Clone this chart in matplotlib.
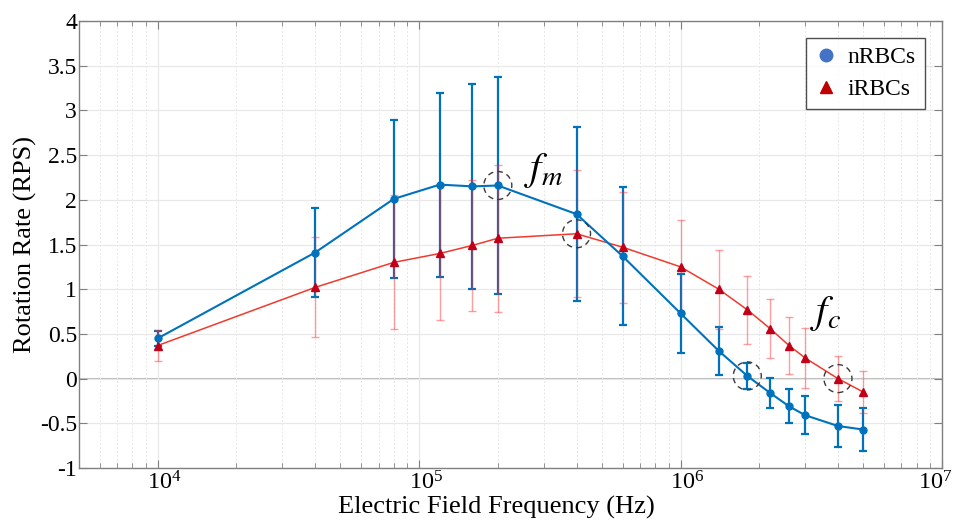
import matplotlib
matplotlib.use("Agg")
import matplotlib.pyplot as plt
import numpy as np
from matplotlib.ticker import LogLocator, FixedLocator, FixedFormatter, NullFormatter
from matplotlib.lines import Line2D
from matplotlib.patches import Circle
from matplotlib.transforms import ScaledTranslation

plt.rcParams['font.family'] = ['Liberation Serif', 'DejaVu Serif']
plt.rcParams['mathtext.fontset'] = 'stix'
plt.rcParams['axes.unicode_minus'] = False

# Frequencies (Hz)
freq = [1e4, 4e4, 8e4, 1.2e5, 1.6e5, 2e5, 4e5, 6e5, 1e6, 1.4e6, 1.8e6,
        2.2e6, 2.6e6, 3e6, 4e6, 5e6]

# Normal RBCs: mean rotation rate and error
nrbc_mean = [0.45, 1.41, 2.01, 2.17, 2.15, 2.16, 1.84, 1.37, 0.73, 0.31, 0.03,
             -0.16, -0.31, -0.41, -0.53, -0.57]
nrbc_err = [0.08, 0.50, 0.88, 1.03, 1.15, 1.21, 0.97, 0.77, 0.44, 0.27, 0.15,
            0.17, 0.19, 0.21, 0.23, 0.24]

# Infected RBCs: mean rotation rate and error
irbc_mean = [0.37, 1.02, 1.30, 1.40, 1.49, 1.57, 1.62, 1.47, 1.25, 1.00, 0.77,
             0.56, 0.37, 0.23, 0.00, -0.15]
irbc_err = [0.17, 0.56, 0.75, 0.75, 0.73, 0.82, 0.71, 0.62, 0.52, 0.44, 0.38,
            0.33, 0.32, 0.34, 0.25, 0.23]

# Highlighted characteristic frequencies (freq, value)
circ_freq = [2e5, 4e5, 1.8e6, 4e6]
circ_val = [2.16, 1.62, 0.03, 0.00]

xticks = [1e4, 1e5, 1e6, 1e7]
yticks = [-1, -0.5, 0, 0.5, 1, 1.5, 2, 2.5, 3, 3.5, 4]
ytick_labels = ['-1', '-0.5', '0', '0.5', '1', '1.5', '2', '2.5', '3', '3.5', '4']

blue = '#0072BD'
red_line = '#F03A2E'
red_mark = '#C00018'
red_err = '#FF2A2A'

fig = plt.figure(figsize=(9.54, 5.21), dpi=100)
ax = fig.add_axes([0.0828, 0.1017, 0.9046, 0.858])

ax.set_xscale('log')
ax.set_xlim(5e3, 1e7)
ax.set_ylim(-1, 4)

# grid
ax.grid(True, which='major', color='#E8E8E8', lw=0.9, zorder=0)
ax.xaxis.set_minor_locator(LogLocator(base=10, subs=np.arange(2, 10)))
ax.grid(True, which='minor', axis='x', color='#E6E6E6', lw=0.7, ls=(0, (2, 2)), zorder=0)
ax.axhline(0, color='#A6A6A6', lw=1.1, zorder=1)

# normal RBCs error bars (underneath)
ax.errorbar(freq, nrbc_mean, yerr=nrbc_err, fmt='none', ecolor=blue,
            elinewidth=1.6, capsize=3, capthick=1.6, zorder=2)

# infected RBCs (translucent bars over the blue ones)
ax.errorbar(freq, irbc_mean, yerr=irbc_err, fmt='none', ecolor=red_err,
            elinewidth=1.0, capsize=3, capthick=1.0, alpha=0.45, zorder=3)
ax.plot(freq, irbc_mean, color=red_line, lw=1.1, zorder=4)
ax.plot(freq, irbc_mean, ls='none', marker='^', ms=6, color=red_mark, zorder=5)

# normal RBCs line and markers
ax.plot(freq, nrbc_mean, color=blue, lw=1.5, marker='o', ms=5, zorder=6)

# ticks
ax.xaxis.set_major_locator(FixedLocator(xticks))
ax.xaxis.set_minor_formatter(NullFormatter())
ax.yaxis.set_major_locator(FixedLocator(yticks))
ax.yaxis.set_major_formatter(FixedFormatter(ytick_labels))
ax.tick_params(which='both', direction='in', top=True, right=True,
               color='#808080')
ax.tick_params(which='major', length=5.8)
ax.tick_params(axis='x', which='major', labelsize=17.5, pad=2.5)
ax.tick_params(axis='y', which='major', labelsize=17, pad=1.5)
ax.tick_params(which='minor', length=3.5)
for s in ax.spines.values():
    s.set_color('#808080')
    s.set_linewidth(1.0)

ax.set_xlabel('Electric Field Frequency (Hz)', fontsize=19, va='bottom')
ax.xaxis.set_label_coords(0.484, -0.114)
ax.set_ylabel('Rotation Rate (RPS)', fontsize=19, labelpad=2)

ax.text(3.0e5, 2.22, r'$f_m$', fontsize=29, ha='center', va='baseline', zorder=7)
ax.text(3.58e6, 0.62, r'$f_c$', fontsize=29, ha='center', va='baseline', zorder=7)

handles = [
    Line2D([], [], ls='none', marker='o', ms=9, color='#4472C4'),
    Line2D([], [], ls='none', marker='^', ms=9, color='#C00000'),
]
leg = ax.legend(handles, ['nRBCs', 'iRBCs'], loc='upper right',
                bbox_to_anchor=(0.980, 0.962), borderaxespad=0, fontsize=17,
                frameon=True, fancybox=False, edgecolor='#222222',
                handlelength=1.0, handletextpad=0.4, borderpad=0.38,
                labelspacing=0.42)
leg.get_frame().set_linewidth(1.0)

fig.canvas.draw()

# dashed circles around the f_m / f_c points (radius in pixels)
for fx, fy in zip(circ_freq, circ_val):
    px, py = ax.transData.transform((fx, fy))
    fig.patches.append(Circle((px, py), 14, transform=None, fill=False,
                              ec='#3a3a3a', lw=1.0, ls=(0, (4, 3)), zorder=8))

# centre the mantissa "10" of each decade label on its tick;
# the last one is kept inside the figure
labels = ax.get_xticklabels()
for i, lbl in enumerate(labels):
    if i == len(labels) - 1:
        lbl.set_horizontalalignment('right')
        lbl.set_transform(lbl.get_transform() + ScaledTranslation(10 / 100, 0, fig.dpi_scale_trans))
    else:
        lbl.set_transform(lbl.get_transform() + ScaledTranslation(7 / 100, 0, fig.dpi_scale_trans))

fig.savefig('out.png', dpi=100, facecolor='white')
